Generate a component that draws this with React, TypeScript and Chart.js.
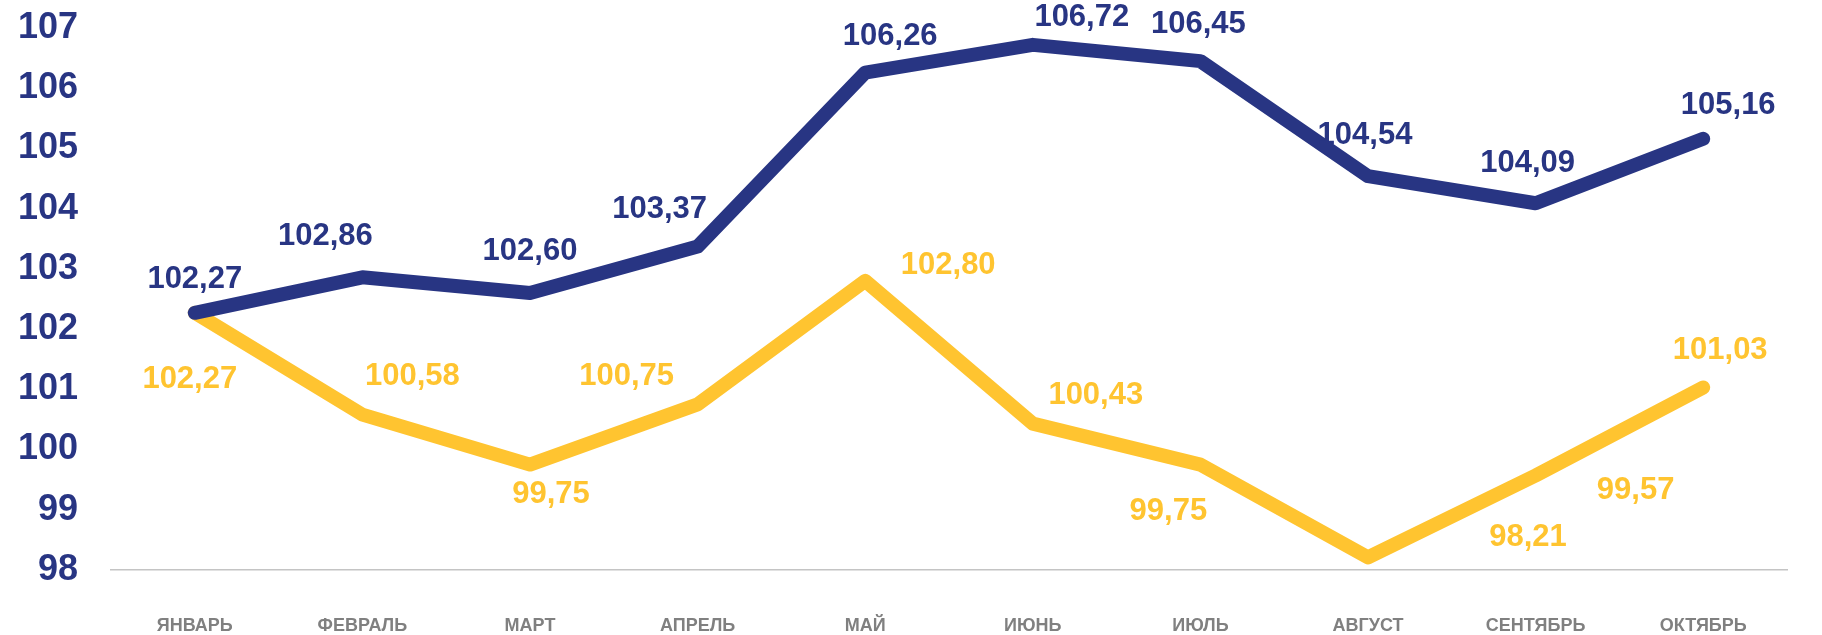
import React, { useEffect, useRef } from "react";
import { Chart, registerables } from "chart.js";

Chart.register(...registerables);

const categories = ["ЯНВАРЬ", "ФЕВРАЛЬ", "МАРТ", "АПРЕЛЬ", "МАЙ", "ИЮНЬ", "ИЮЛЬ", "АВГУСТ", "СЕНТЯБРЬ", "ОКТЯБРЬ"];
const navySeries = [102.27, 102.86, 102.6, 103.37, 106.26, 106.72, 106.45, 104.54, 104.09, 105.16];
const yellowSeries = [102.27, 100.58, 99.75, 100.75, 102.8, 100.43, 99.75, 98.21, 99.57, 101.03];
const yMin = 98;
const yMax = 107;

const NAVY = "#283583";
const YELLOW = "#FFC430";

// label offsets (dx, dy) relative to each point
const navyOffsets: [number, number][] = [
  [0, -33], [-37, -41], [0, -42], [-38, -37], [25, -36],
  [49, -27], [-2, -37], [-3, -41], [-8, -40], [25, -33],
];
const yellowOffsets: [number, number][] = [
  [-5, 67], [50, -38], [21, 30], [-71, -28], [83, -15],
  [63, -28], [-32, 47], [160, -20], [100, 15], [17, -37],
];

const fmt = (v: number) => v.toFixed(2).replace(".", ",");

const labelPlugin = {
  id: "pointLabels",
  afterDatasetsDraw(chart: any) {
    const ctx = chart.ctx;
    chart.data.datasets.forEach((ds: any, di: number) => {
      const meta = chart.getDatasetMeta(di);
      const offsets = ds.labelOffsets as [number, number][];
      meta.data.forEach((pt: any, i: number) => {
        const v = ds.data[i];
        const [dx, dy] = offsets[i];
        ctx.save();
        ctx.fillStyle = ds.borderColor;
        ctx.textAlign = "center";
        ctx.textBaseline = "middle";
        ctx.font = "bold 31px 'Liberation Sans', Arial, sans-serif";
        ctx.fillText(fmt(v), pt.x + dx, pt.y + dy);
        ctx.restore();
      });
    });
  },
};

export default function App() {
  const ref = useRef<HTMLCanvasElement | null>(null);
  useEffect(() => {
    if (!ref.current) return;
    const chart = new Chart(ref.current, {
      type: "line",
      data: {
        labels: categories,
        datasets: [
          {
            label: "A",
            data: navySeries,
            borderColor: NAVY,
            backgroundColor: NAVY,
            borderWidth: 14,
            borderCapStyle: "round",
            borderJoinStyle: "round",
            pointRadius: 0,
            tension: 0,
            order: 0,
            labelOffsets: navyOffsets,
          } as any,
          {
            label: "B",
            data: yellowSeries,
            borderColor: YELLOW,
            backgroundColor: YELLOW,
            borderWidth: 14,
            borderCapStyle: "round",
            borderJoinStyle: "round",
            pointRadius: 0,
            tension: 0,
            order: 1,
            labelOffsets: yellowOffsets,
          } as any,
        ],
      },
      options: {
        animation: false,
        responsive: true,
        maintainAspectRatio: false,
        layout: { padding: { top: 28, right: 35, left: 0, bottom: 0 } },
        plugins: { legend: { display: false }, tooltip: { enabled: false } },
        elements: { line: { clip: false } as any },
        scales: {
          x: {
            offset: true,
            grid: { display: false, drawTicks: false },
            border: { display: true, color: "#C4C4C4", width: 1.5 },
            ticks: {
              color: "#808080",
              font: { family: "'Liberation Sans', Arial, sans-serif", size: 18, weight: "bold" },
              padding: 45,
              autoSkip: false,
              maxRotation: 0,
            },
            afterFit: (s: any) => { s.height = 65; },
          },
          y: {
            min: yMin,
            max: yMax,
            grid: { display: false, drawTicks: false },
            border: { display: false },
            ticks: {
              stepSize: 1,
              color: NAVY,
              font: { family: "'Liberation Sans', Arial, sans-serif", size: 36, weight: "bold" },
              padding: 33,
            },
            afterFit: (s: any) => {
              s.width = 111;
              s.paddingTop = 0;
              s.paddingBottom = 0;
            },
          },
        },
      },
      plugins: [labelPlugin],
    });
    return () => chart.destroy();
  }, []);
  return (
    <div style={{ position: "fixed", left: 0, top: 0, width: 1822, height: 635, background: "#fff" }}>
      <canvas ref={ref} />
    </div>
  );
}
